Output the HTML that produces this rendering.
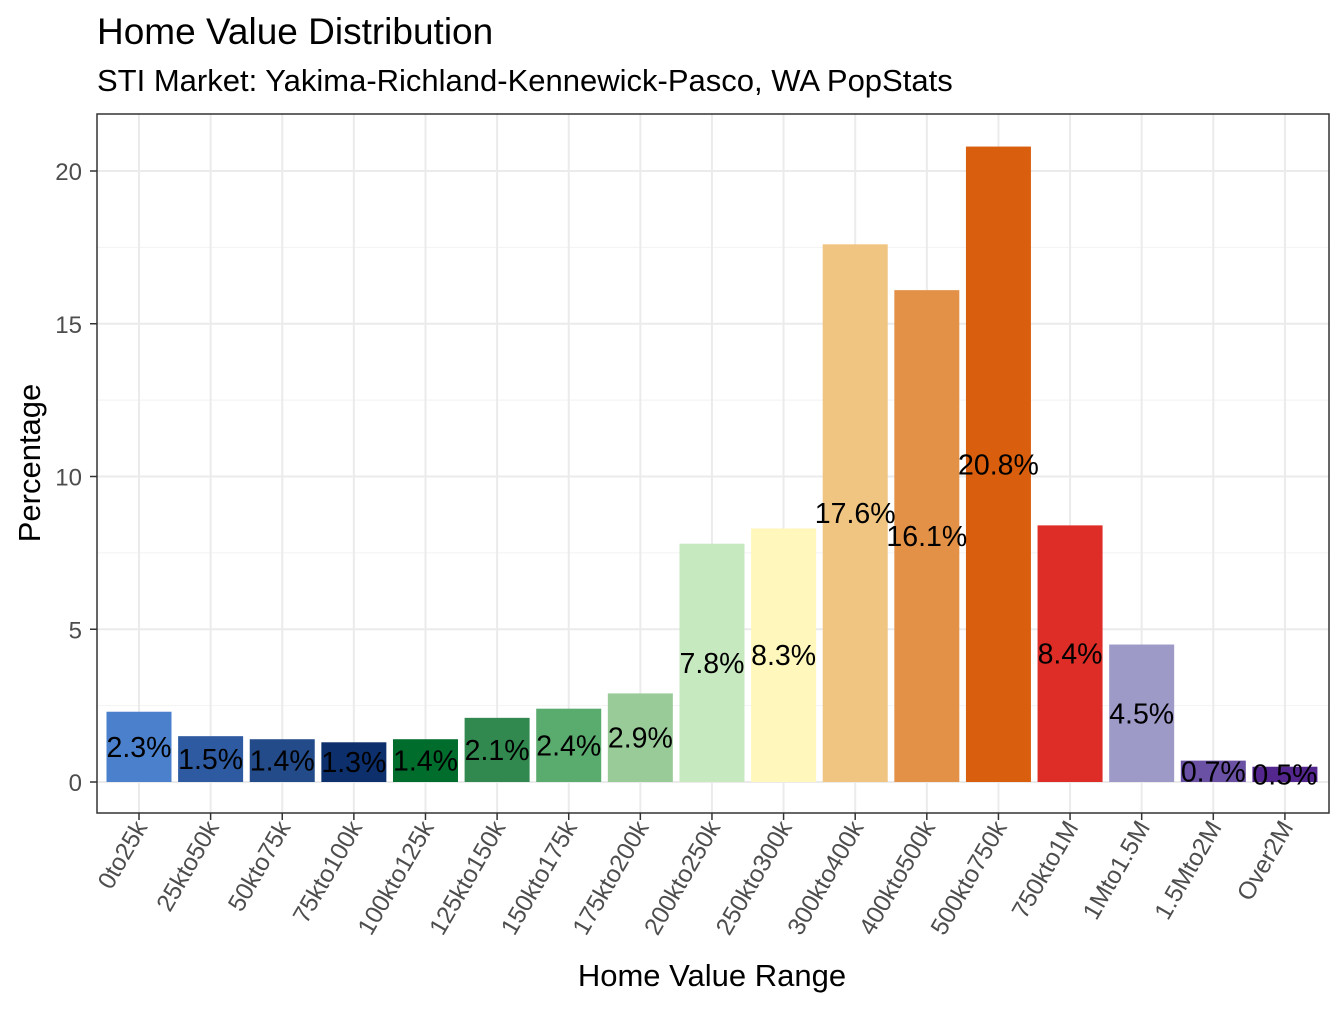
<!DOCTYPE html>
<html><head><meta charset="utf-8"><style>
body{margin:0;background:#fff;}
svg text{font-family:"Liberation Sans",Arial,sans-serif;}
</style></head><body>
<svg id="chart" width="1344" height="1008" xmlns="http://www.w3.org/2000/svg">
<rect width="1344" height="1008" fill="#fff"/>
<text x="97" y="44" font-size="37" fill="#000">Home Value Distribution</text>
<text x="97" y="91" font-size="31" fill="#000">STI Market: Yakima-Richland-Kennewick-Pasco, WA PopStats</text>
<g id="grid"></g>
<g id="bars"></g>
<g id="labels"></g>
<rect x="97" y="114" width="1232" height="699" fill="none" stroke="#333" stroke-width="1.5"/>
<g id="axes"></g>
<text x="712" y="986" font-size="31" text-anchor="middle" fill="#000">Home Value Range</text>
<text transform="translate(40,463) rotate(-90)" font-size="31" text-anchor="middle" fill="#000">Percentage</text>
</svg>
<script>
const categories=["0to25k","25kto50k","50kto75k","75kto100k","100kto125k","125kto150k","150kto175k","175kto200k","200kto250k","250kto300k","300kto400k","400kto500k","500kto750k","750kto1M","1Mto1.5M","1.5Mto2M","Over2M"];
const values=[2.3,1.5,1.4,1.3,1.4,2.1,2.4,2.9,7.8,8.3,17.6,16.1,20.8,8.4,4.5,0.7,0.5];
const colors=["#4a80cc","#2d5aa0","#234b8a","#0d2f6b","#006d2c","#31894f","#5aab6e","#98cb98","#c7e9c0","#fff7bc","#f0c481","#e39147","#d95f0e","#de2d26","#9e9ac8","#6a51a3","#54278f"];
const yTicks=[0,5,10,15,20];
const NS="http://www.w3.org/2000/svg";
const y=v=>782-30.55*v;
const step=71.62;
const x=i=>139+i*step;
const bw=65;
function mk(tag,attrs,parent){const e=document.createElementNS(NS,tag);for(const k in attrs)e.setAttribute(k,attrs[k]);parent.appendChild(e);return e;}
const grid=document.getElementById('grid'),bars=document.getElementById('bars'),labels=document.getElementById('labels'),axes=document.getElementById('axes');
for(let v=2.5;v<=20;v+=5){const l=mk('line',{x1:97,x2:1329,y1:y(v),y2:y(v),stroke:'#f2f2f2','stroke-width':1},grid);

}
yTicks.forEach(v=>{const l=mk('line',{x1:97,x2:1329,y1:y(v),y2:y(v),stroke:'#ebebeb','stroke-width':2},grid);


const t=mk('line',{x1:90,x2:97,y1:y(v),y2:y(v),stroke:'#333','stroke-width':1.5},axes);


const tx=mk('text',{x:82,y:y(v)+9,'font-size':24,'text-anchor':'end',fill:'#4d4d4d'},axes);
tx.textContent=v;

});
categories.forEach((c,i)=>{const cx=x(i);
const g=mk('line',{x1:cx,x2:cx,y1:114,y2:813,stroke:'#ebebeb','stroke-width':2},grid);


const r=mk('rect',{x:cx-bw/2,y:y(values[i]),width:bw,height:y(0)-y(values[i]),fill:colors[i]},bars);


const lb=mk('text',{x:cx,y:y(values[i]/2)+10,'font-size':28.5,'text-anchor':'middle',fill:'#000'},labels);
lb.textContent=values[i].toFixed(1)+'%';


const t=mk('line',{x1:cx,x2:cx,y1:813,y2:820,stroke:'#333','stroke-width':1.5},axes);


const tx=mk('text',{transform:`translate(${cx+9},${827}) rotate(-60)`,'font-size':24.5,'text-anchor':'end',fill:'#4d4d4d'},axes);
tx.textContent=c;

});
</script>
</body></html>
